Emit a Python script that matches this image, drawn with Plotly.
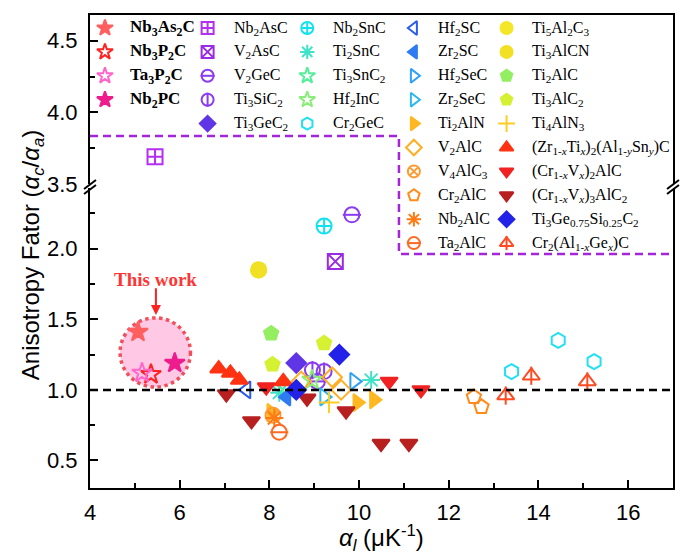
import plotly.graph_objects as go

# ---------------- data ----------------
series_names = [
    "Nb3As2C", "Nb3P2C", "Ta3P2C", "Nb2PC",
    "Nb2AsC", "V2AsC", "V2GeC", "Ti3SiC2", "Ti3GeC2",
    "Nb2SnC", "Ti2SnC", "Ti3SnC2", "Hf2InC", "Cr2GeC",
    "Hf2SC", "Zr2SC", "Hf2SeC", "Zr2SeC", "Ti2AlN", "V2AlC", "V4AlC3", "Cr2AlC", "Nb2AlC", "Ta2AlC",
    "Ti5Al2C3", "Ti3AlCN", "Ti2AlC", "Ti3AlC2", "Ti4AlN3", "(Zr1-xTix)2(Al1-ySny)C",
    "(Cr1-xVx)2AlC", "(Cr1-xVx)3AlC2", "Ti3Ge0.75Si0.25C2", "Cr2(Al1-xGex)C",
]
series_labels = [
    "<b>Nb<sub>3</sub>As<sub>2</sub>C</b>", "<b>Nb<sub>3</sub>P<sub>2</sub>C</b>",
    "<b>Ta<sub>3</sub>P<sub>2</sub>C</b>", "<b>Nb<sub>2</sub>PC</b>",
    "Nb<sub>2</sub>AsC", "V<sub>2</sub>AsC", "V<sub>2</sub>GeC", "Ti<sub>3</sub>SiC<sub>2</sub>",
    "Ti<sub>3</sub>GeC<sub>2</sub>",
    "Nb<sub>2</sub>SnC", "Ti<sub>2</sub>SnC", "Ti<sub>3</sub>SnC<sub>2</sub>", "Hf<sub>2</sub>InC",
    "Cr<sub>2</sub>GeC",
    "Hf<sub>2</sub>SC", "Zr<sub>2</sub>SC", "Hf<sub>2</sub>SeC", "Zr<sub>2</sub>SeC", "Ti<sub>2</sub>AlN",
    "V<sub>2</sub>AlC", "V<sub>4</sub>AlC<sub>3</sub>", "Cr<sub>2</sub>AlC", "Nb<sub>2</sub>AlC",
    "Ta<sub>2</sub>AlC",
    "Ti<sub>5</sub>Al<sub>2</sub>C<sub>3</sub>", "Ti<sub>3</sub>AlCN", "Ti<sub>2</sub>AlC",
    "Ti<sub>3</sub>AlC<sub>2</sub>", "Ti<sub>4</sub>AlN<sub>3</sub>",
    "(Zr<sub>1-<i>x</i></sub>Ti<sub><i>x</i></sub>)<sub>2</sub>(Al<sub>1-<i>y</i></sub>Sn<sub><i>y</i></sub>)C",
    "(Cr<sub>1-<i>x</i></sub>V<sub><i>x</i></sub>)<sub>2</sub>AlC",
    "(Cr<sub>1-<i>x</i></sub>V<sub><i>x</i></sub>)<sub>3</sub>AlC<sub>2</sub>",
    "Ti<sub>3</sub>Ge<sub>0.75</sub>Si<sub>0.25</sub>C<sub>2</sub>",
    "Cr<sub>2</sub>(Al<sub>1-<i>x</i></sub>Ge<sub><i>x</i></sub>)C",
]
series_x = [
    [5.07], [5.36], [5.16], [5.89],
    [5.45], [9.47], [9.84, 9.07], [8.96, 9.22], [8.6],
    [9.22], [8.22, 10.27], [8.4], [8.95], [13.4, 14.44, 15.24],
    [7.49], [8.38], [9.89], [9.22], [9.96, 10.33, 8.04], [8.71, 9.4, 9.6], [8.08], [12.56, 12.73],
    [8.11], [8.22],
    [7.76], [7.76], [8.04], [8.07, 9.22], [9.33], [6.87, 7.13, 7.33, 8.31],
    [7.93, 10.67, 11.38], [7.04, 7.6, 8.84, 9.71, 10.49, 11.11], [9.56, 8.6], [13.27, 13.84, 15.09],
]
series_y = [
    [1.41], [1.11], [1.12], [1.19],
    [3.69], [1.91], [2.24, 1.06], [1.14, 1.13], [1.19],
    [2.16], [0.98, 1.07], [1.01], [1.07], [1.13, 1.35, 1.2],
    [1.0], [0.95], [1.06], [0.95], [0.91, 0.93, 0.84], [1.06, 1.09, 1.0], [0.82], [0.95, 0.88],
    [0.80], [0.70],
    [1.85], [1.85], [1.40], [1.18, 1.33], [0.91], [1.15, 1.12, 1.07, 1.06],
    [1.02, 1.06, 1.0], [0.97, 0.78, 0.94, 0.85, 0.62, 0.62], [1.25, 1.0], [0.96, 1.1, 1.06],
]
x_ticks = [4, 6, 8, 10, 12, 14, 16]
y_ticks_low = [0.5, 1.0, 1.5, 2.0]
y_ticks_up = [3.5, 4.0, 4.5]

# ---------------- styles ----------------
# (symbol, color, overlay symbol or None)
series_style = [
    ("star", "#FF5F5F", None), ("star-open", "#FF2222", None), ("star-open", "#FF66CC", None),
    ("star", "#EE1C8C", None),
    ("square-cross-open", "#B62EF2", None), ("square-x-open", "#9A2BE2", None),
    ("circle-open", "#8A3CF0", "line-ew-open"), ("circle-open", "#8A3CF0", "line-ns-open"),
    ("diamond", "#6035E6", None),
    ("circle-cross-open", "#10E2F0", None), ("asterisk-open", "#3FE3C8", None),
    ("star-open", "#55EE99", None), ("star-open", "#88EE77", None), ("hexagon-open", "#22E0F2", None),
    ("triangle-left-open", "#2A5CF0", None), ("triangle-left", "#2F7BF2", None),
    ("triangle-right-open", "#2EA0FA", None), ("triangle-right-open", "#2FB8F0", None),
    ("triangle-right", "#FFB822", None), ("diamond-open", "#FFAE22", None),
    ("circle-x-open", "#FF9A30", None), ("pentagon-open", "#FF8C1A", None),
    ("asterisk-open", "#FF7A12", None), ("circle-open", "#FF6A22", "line-ew-open"),
    ("circle", "#F4E628", None), ("circle", "#F2E024", None), ("pentagon", "#94EE62", None),
    ("pentagon", "#D6F032", None), ("cross-thin-open", "#FFCC22", None),
    ("triangle-up", "#FF3212", None), ("triangle-down", "#F02222", None),
    ("triangle-down", "#B82020", None), ("diamond", "#2222E8", None),
    ("triangle-up-open", "#FF4A22", "line-ns-open"),
]
legend_cols = [0] * 4 + [1] * 5 + [2] * 5 + [3] * 10 + [4] * 10
legend_rows = [0, 1, 2, 3] + list(range(5)) + list(range(5)) + list(range(10)) + list(range(10))

W, H = 683, 557
L, R, T, B = 90, 675, 15, 488
LOW_TOP, UP_BOT = 188, 184


def pxx(xp):
    return (xp - L) / (R - L)


def pxy(yp):
    return (B - yp) / (B - T)


MS = 15

fig = go.Figure()

for name, xs, ys, st in zip(series_names, series_x, series_y, series_style):
    sym, col, ov = st
    for upper in (False, True):
        px_ = [x for x, y in zip(xs, ys) if (y > 3) == upper]
        py_ = [y for x, y in zip(xs, ys) if (y > 3) == upper]
        if not px_:
            continue
        xa, ya = ("x2", "y2") if upper else ("x", "y")
        fig.add_trace(go.Scatter(
            x=px_, y=py_, mode="markers", name=name, showlegend=False, xaxis=xa, yaxis=ya,
            marker=dict(symbol=sym, size=MS, color=col, line=dict(color=col, width=2)),
            cliponaxis=False))
        if ov:
            fig.add_trace(go.Scatter(
                x=px_, y=py_, mode="markers", showlegend=False, xaxis=xa, yaxis=ya,
                marker=dict(symbol=ov, size=MS - 2, color=col, line=dict(color=col, width=2)),
                cliponaxis=False))

# legend drawn on a pixel-space helper axis
col_marker_x = [105, 208, 308, 415, 508]
col_text_x = [128, 232, 332, 437, 532]
row_y0, row_dy = 28, 23.9
annotations = []
for lab, st, c, r in zip(series_labels, series_style, legend_cols, legend_rows):
    sym, colr, ov = st
    yy = row_y0 + r * row_dy
    fig.add_trace(go.Scatter(
        x=[col_marker_x[c]], y=[yy], mode="markers", showlegend=False, xaxis="x3", yaxis="y3",
        marker=dict(symbol=sym, size=12, color=colr, line=dict(color=colr, width=2)), hoverinfo="skip"))
    if ov:
        fig.add_trace(go.Scatter(
            x=[col_marker_x[c]], y=[yy], mode="markers", showlegend=False, xaxis="x3", yaxis="y3",
            marker=dict(symbol=ov, size=10, color=colr, line=dict(color=colr, width=2)), hoverinfo="skip"))
    annotations.append(dict(
        x=col_text_x[c], y=yy, xref="x3", yref="y3", text=lab, showarrow=False,
        xanchor="left", yanchor="middle",
        font=dict(family="Liberation Serif, Times New Roman, serif", size=17 if c == 0 else 16,
                  color="black")))

shapes = [
    dict(type="line", xref="x", yref="y", x0=4, x1=17, y0=1.0, y1=1.0,
         line=dict(color="black", width=2.5, dash="8px,5px")),
    dict(type="path", xref="paper", yref="paper",
         path=f"M {pxx(90)},{pxy(136)} L {pxx(400)},{pxy(136)} L {pxx(400)},{pxy(254)} L {pxx(675)},{pxy(254)}",
         line=dict(color="#A526D9", width=2.5, dash="8px,5px")),
    dict(type="circle", xref="x", yref="y", x0=4.67, x1=6.24, y0=1.02, y1=1.51,
         fillcolor="rgba(255,190,225,0.85)", line=dict(color="#F0505A", width=3.5, dash="dot"),
         layer="below"),
]
for xb in (L, R):
    for dy in (0, 5):
        shapes.append(dict(type="line", xref="paper", yref="paper",
                           x0=pxx(xb - 6), y0=pxy(191 + dy - 2), x1=pxx(xb + 6), y1=pxy(182 + dy - 2),
                           line=dict(color="black", width=2)))

annotations += [
    dict(x=5.47, y=1.78, xref="x", yref="y", text="<b>This work</b>", showarrow=False,
         font=dict(family="Liberation Serif, Times New Roman, serif", size=19, color="#FF3535"),
         xanchor="center", yanchor="middle"),
    dict(x=5.47, y=1.53, xref="x", yref="y", ax=5.47, ay=1.73, axref="x", ayref="y", text="",
         showarrow=True, arrowhead=2, arrowsize=1, arrowwidth=2, arrowcolor="#FF2020"),
    dict(x=pxx(32), y=pxy(255), xref="paper", yref="paper", textangle=-90,
         text="Anisotropy Fator (<i>α<sub>c</sub></i>/<i>α<sub>a</sub></i>)", showarrow=False,
         font=dict(family="Liberation Sans, Arial, sans-serif", size=24, color="black"),
         xanchor="center", yanchor="middle"),
    dict(x=pxx(382), y=pxy(538), xref="paper", yref="paper",
         text="<i>α<sub>l</sub></i> (μK<sup>-1</sup>)", showarrow=False,
         font=dict(family="Liberation Sans, Arial, sans-serif", size=24, color="black"),
         xanchor="center", yanchor="middle"),
]

tickfont = dict(family="Liberation Sans, Arial, sans-serif", size=22, color="black")
fig.update_layout(
    width=W, height=H, autosize=False,
    margin=dict(l=L, r=W - R, t=T, b=H - B),
    paper_bgcolor="white", plot_bgcolor="rgba(0,0,0,0)",
    showlegend=False,
    xaxis=dict(domain=[0, 1], anchor="y", range=[4, 17], tickvals=x_ticks, ticks="inside",
               ticklen=8, tickwidth=2, tickcolor="black", showline=True, linewidth=2,
               linecolor="black", mirror=False, showgrid=False, zeroline=False, tickfont=tickfont,
               ticklabelstandoff=4,
               minor=dict(tickvals=[5, 7, 9, 11, 13, 15], ticks="inside", ticklen=5, tickwidth=2,
                          tickcolor="black")),
    xaxis2=dict(domain=[0, 1], anchor="y2", matches="x", side="top", showline=True, linewidth=2,
                linecolor="black", showticklabels=False, ticks="", showgrid=False, zeroline=False),
    yaxis=dict(domain=[0, pxy(LOW_TOP)], anchor="x", range=[0.305, 2.43], tickvals=y_ticks_low,
               ticktext=["0.5", "1.0", "1.5", "2.0"], ticks="inside", ticklen=8, tickwidth=2,
               tickcolor="black", showline=True, linewidth=2, linecolor="black", mirror=True,
               showgrid=False, zeroline=False, tickfont=tickfont, ticklabelstandoff=6,
               minor=dict(tickvals=[0.75, 1.25, 1.75, 2.25], ticks="inside", ticklen=5, tickwidth=2,
                          tickcolor="black")),
    yaxis2=dict(domain=[pxy(UP_BOT), 1], anchor="x2", range=[3.5, 4.68], tickvals=y_ticks_up,
                ticktext=["3.5", "4.0", "4.5"], ticks="inside", ticklen=8, tickwidth=2,
                tickcolor="black", showline=True, linewidth=2, linecolor="black", mirror=True,
                showgrid=False, zeroline=False, tickfont=tickfont, ticklabelstandoff=6,
                minor=dict(tickvals=[3.75, 4.25], ticks="inside", ticklen=5, tickwidth=2,
                           tickcolor="black")),
    xaxis3=dict(domain=[0, 1], anchor="y3", range=[L, R], visible=False, fixedrange=True),
    yaxis3=dict(domain=[0, 1], anchor="x3", range=[B, T], visible=False, fixedrange=True),
    shapes=shapes, annotations=annotations,
)

fig.write_html("out.html")
